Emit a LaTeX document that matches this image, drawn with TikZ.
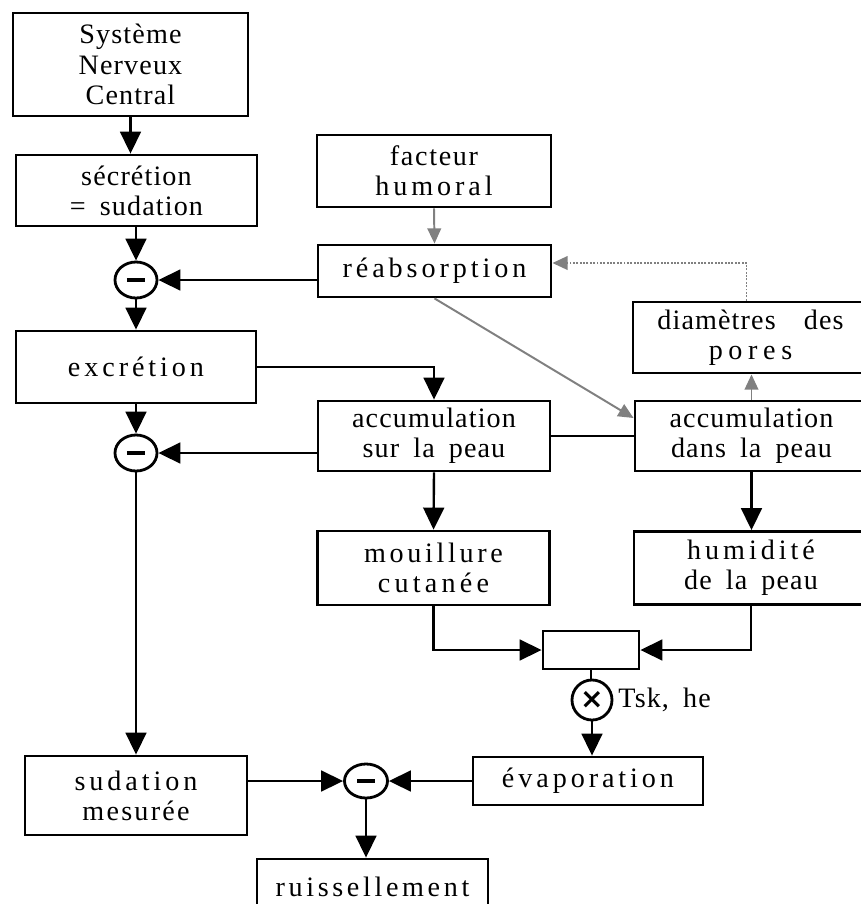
\documentclass[tikz,border=0pt]{standalone}
\usepackage{fontspec}
\setmainfont{Liberation Serif}
\newfontfamily\croixfont{DejaVu Sans}
\usepackage{tikz}
\usetikzlibrary{shapes.geometric}
\usetikzlibrary{arrows.meta}
\usetikzlibrary{calc}
\newcommand{\espacer}[2][14]{{\addfontfeatures{LetterSpace=#1}#2}}
\newcommand{\signemoins}{\rule{0.45cm}{2.6pt}}
\tikzstyle{bloc}=[draw,rectangle,line width=2pt,align=center,inner sep=0pt]
\tikzstyle{somme}=[draw,ellipse,line width=2pt,inner sep=0pt,minimum width=1.05cm,minimum height=0.9cm]
\tikzstyle{fleche}=[-{Triangle[length=0.55cm,width=0.52cm]},line width=1.7pt]
\tikzstyle{flechegris}=[-{Triangle[length=0.38cm,width=0.34cm]},line width=1.4pt,gray]
\tikzstyle{lien}=[line width=1.7pt]

\begin{document}
\begin{tikzpicture}[x=0.025cm,y=-0.025cm,font=\fontsize{20}{21.5}\selectfont\addfontfeatures{LetterSpace=4}]
	\clip (0,0) rectangle (861,904);
	
	\node (snc) [bloc,minimum width=5.875cm,minimum height=2.575cm] at (130.5,64.5) {Système\\Nerveux\\Central};
	\node (secr) [bloc,minimum width=6.025cm,minimum height=1.775cm] at (136.5,190.5) {sécrétion\\=\enskip sudation};
	\node (c1) [somme] at (136,280) {\signemoins};
	\node (excr) [bloc,minimum width=6cm,minimum height=1.8cm] at (136,367) {\espacer{excrétion}};
	\node (c2) [somme] at (136,453) {\signemoins};
	\node (sudmes) [bloc,minimum width=5.55cm,minimum height=1.975cm] at (136,795.5) {\espacer{sudation}\\\espacer[8]{mesurée}};
	
	\node (facteur) [bloc,minimum width=5.85cm,minimum height=1.8cm] at (434,171) {\espacer[6]{facteur}\\\espacer{humoral}};
	\node (reab) [bloc,minimum width=5.825cm,minimum height=1.3cm] at (434.5,271) {\espacer{réabsorption}};
	\node (accsur) [bloc,minimum width=5.8cm,minimum height=1.75cm] at (434,436) {accumulation\\sur\enskip la\enskip peau};
	\node (mouil) [bloc,minimum width=5.8cm,minimum height=1.85cm] at (433.5,568) {\espacer[13]{mouillure}\\\espacer[15]{cutanée}};
	
	\node (diam) [bloc,minimum width=5.875cm,minimum height=1.775cm] at (750.5,337.5) {diamètres\quad des\\\espacer[20]{pores}};
	\node (accdans) [bloc,minimum width=5.825cm,minimum height=1.75cm] at (751.5,436) {accumulation\\dans\enskip la\enskip peau};
	\node (humid) [bloc,minimum width=5.85cm,minimum height=1.825cm] at (751,568) {\espacer{humidité}\\de\enskip la\enskip peau};
	
	\node (petit) [bloc,minimum width=2.4cm,minimum height=0.95cm] at (591,650) {};
	\node (cx) [somme,minimum width=1cm,minimum height=1cm] at (592,700) {\croixfont\bfseries\fontsize{20}{20}\selectfont ×};
	\node (tsk) [anchor=west] at (cx.east) {Tsk,\enskip he};
	\node (evap) [bloc,minimum width=5.75cm,minimum height=1.2cm] at (588,781) {\espacer{évaporation}};
	\node (c3) [somme,minimum width=1.075cm,minimum height=0.85cm] at (366,781) {\signemoins};
	\node (ruis) [bloc,minimum width=5.775cm,minimum height=1.4cm] at (372.5,887) {\espacer[13]{ruissellement}};
	
	\draw[fleche] (snc.south) -- (snc.south |- secr.north);
	\draw[fleche] (c1 |- secr.south) -- (c1.north);
	\draw[fleche] (reab.west |- c1) -- (c1.east);
	\draw[fleche] (c1.south) -- (c1 |- excr.north);
	\draw[fleche] (c2 |- excr.south) -- (c2.north);
	\draw[fleche] (excr.east) -| (accsur.north);
	\draw[fleche] (accsur.west |- c2) -- (c2.east);
	\draw[fleche] (c2.south) -- (c2 |- sudmes.north);
	\draw[lien] (accsur.east) -- (accdans.west);
	\draw[fleche] (accsur.south) -- (mouil.north);
	\draw[fleche] (accdans.south) -- (accdans.south |- humid.north);
	\draw[fleche] (mouil.south) |- (petit.west);
	\draw[fleche] (humid.south) |- (petit.east);
	\draw[lien] (petit.south) -- (petit.south |- cx.north);
	\draw[fleche] (cx.south) -- (cx |- evap.north);
	\draw[fleche] (evap.west) -- (c3.east);
	\draw[fleche] (sudmes.east |- c3) -- (c3.west);
	\draw[fleche] (c3.south) -- (c3 |- ruis.north);
	
	\draw[flechegris] (facteur.south) -- (reab.north);
	\draw[flechegris] (reab.south) -- ($(accdans.west)+(0,-18)$);
	\draw[flechegris] (accdans.north) -- (accdans.north |- diam.south);
	\draw[flechegris,densely dotted] ($(diam.north)+(-4,0)$) |- ($(reab.east)+(0,-8)$);
\end{tikzpicture}
\end{document}
